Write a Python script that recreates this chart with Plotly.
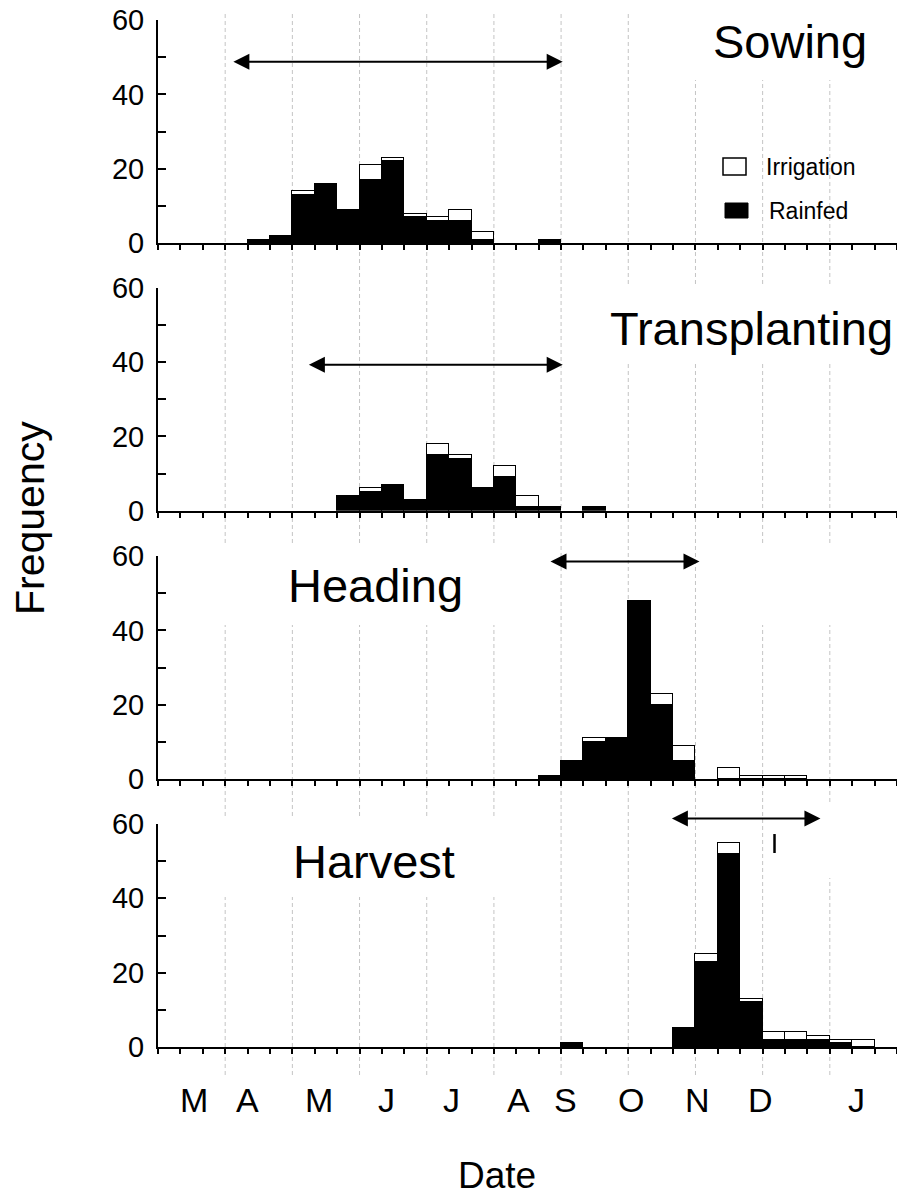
import plotly.graph_objects as go
from plotly.subplots import make_subplots

# ---------------- data ----------------
n_dekads = 33  # 1 March ... 31 January, 10-day periods
months = ["M", "A", "M", "J", "J", "A", "S", "O", "N", "D", "J"]
month_label_x = [1.6, 4.0, 7.2, 10.2, 13.1, 16.1, 18.2, 21.1, 24.1, 26.9, 31.2]
month_bounds = [3, 6, 9, 12, 15, 18, 21, 24, 27, 30]

stages = ["Sowing", "Transplanting", "Heading", "Harvest"]

sowing_rainfed = [0, 0, 0, 0, 1, 2, 13, 16, 9, 17, 22, 7, 6, 6, 1, 0, 0, 1, 0, 0, 0, 0, 0, 0, 0, 0, 0, 0, 0, 0, 0, 0, 0]
sowing_irrigation = [0, 0, 0, 0, 0, 0, 1, 0, 0, 4, 1, 1, 1, 3, 2, 0, 0, 0, 0, 0, 0, 0, 0, 0, 0, 0, 0, 0, 0, 0, 0, 0, 0]

transplanting_rainfed = [0, 0, 0, 0, 0, 0, 0, 0, 4, 5, 7, 3, 15, 14, 6, 9, 1, 1, 0, 1, 0, 0, 0, 0, 0, 0, 0, 0, 0, 0, 0, 0, 0]
transplanting_irrigation = [0, 0, 0, 0, 0, 0, 0, 0, 0, 1, 0, 0, 3, 1, 0, 3, 3, 0, 0, 0, 0, 0, 0, 0, 0, 0, 0, 0, 0, 0, 0, 0, 0]

heading_rainfed = [0, 0, 0, 0, 0, 0, 0, 0, 0, 0, 0, 0, 0, 0, 0, 0, 0, 1, 5, 10, 11, 48, 20, 5, 0, 0, 0, 0, 0, 0, 0, 0, 0]
heading_irrigation = [0, 0, 0, 0, 0, 0, 0, 0, 0, 0, 0, 0, 0, 0, 0, 0, 0, 0, 0, 1, 0, 0, 3, 4, 0, 3, 1, 1, 1, 0, 0, 0, 0]

harvest_rainfed = [0, 0, 0, 0, 0, 0, 0, 0, 0, 0, 0, 0, 0, 0, 0, 0, 0, 0, 1, 0, 0, 0, 0, 5, 23, 52, 12, 2, 2, 2, 1, 0, 0]
harvest_irrigation = [0, 0, 0, 0, 0, 0, 0, 0, 0, 0, 0, 0, 0, 0, 0, 0, 0, 0, 0, 0, 0, 0, 0, 0, 2, 3, 1, 2, 2, 1, 1, 2, 0]

rainfed_series = [sowing_rainfed, transplanting_rainfed, heading_rainfed, harvest_rainfed]
irrigation_series = [sowing_irrigation, transplanting_irrigation, heading_irrigation, harvest_irrigation]

# period arrows (start, end in dekads; height in frequency units)
arrow_start = [3.3, 6.67, 17.46, 22.88]
arrow_end = [18.07, 18.07, 24.18, 29.58]
arrow_y = [48.8, 39.3, 58.5, 61.5]

# stage label anchors (left x in dekads, y in frequency units)
label_x = [24.7, 20.1, 5.7, 5.95]
label_y = [54.3, 49.2, 52.0, 50.0]

y_max = 60
y_tickvals = [0, 10, 20, 30, 40, 50, 60]
y_ticktext = ["0", "", "20", "", "40", "", "60"]
legend_names = ["Irrigation", "Rainfed"]

# ---------------- layout geometry ----------------
W, H = 897, 1201
ML = 158
PW = W - ML
FONT = "Liberation Sans, Arial, Helvetica, sans-serif"
panel_zero_px = [243.3, 510.7, 779.3, 1047.0]
panel_top_px = [20.0, 288.0, 556.0, 824.0]


def px_x(p):
    return (p - ML) / PW


def px_y(p):
    return 1 - p / H


fig = make_subplots(rows=4, cols=1)

centers = [i + 0.5 for i in range(n_dekads)]
for r in range(4):
    rain = [v if v else None for v in rainfed_series[r]]
    irr = [v if v else None for v in irrigation_series[r]]
    fig.add_trace(go.Bar(x=centers, y=rain, width=1, name=legend_names[1],
                         marker=dict(color="black", line=dict(color="black", width=1.5)),
                         showlegend=False), row=r + 1, col=1)
    fig.add_trace(go.Bar(x=centers, y=irr, width=1, name=legend_names[0],
                         marker=dict(color="white", line=dict(color="black", width=1.5)),
                         showlegend=False), row=r + 1, col=1)

for r in range(4):
    ax = "" if r == 0 else str(r + 1)
    fig.layout["yaxis" + ax].update(
        domain=[px_y(panel_zero_px[r]), px_y(panel_top_px[r])],
        range=[0, y_max], tickmode="array", tickvals=y_tickvals, ticktext=y_ticktext,
        ticks="inside", ticklen=8, tickwidth=2, tickcolor="black",
        showline=True, linecolor="black", linewidth=2, showgrid=False, zeroline=False,
        tickfont=dict(family=FONT, size=29, color="black"), ticklabelstandoff=6,
    )
    fig.layout["xaxis" + ax].update(
        domain=[0, 1], range=[0, n_dekads], tickmode="array",
        tickvals=list(range(n_dekads + 1)), showticklabels=False,
        ticks="outside", ticklen=5, tickwidth=2, tickcolor="black",
        showline=True, linecolor="black", linewidth=2, showgrid=False, zeroline=False,
    )

shapes = []
# month boundary gridlines spanning all panels
for b in month_bounds:
    shapes.append(dict(type="line", xref="paper", yref="paper",
                       x0=b / n_dekads, x1=b / n_dekads, y0=px_y(1075), y1=px_y(12),
                       line=dict(color="#c4c4c4", width=1, dash="4px,3px"), layer="below"))
# white patches behind stage labels
for (x0, x1, y0, y1) in [(680, 897, 0, 80), (600, 897, 287, 363), (200, 545, 545, 625),
                         (740, 897, 545, 625), (200, 545, 818, 897), (812, 842, 803, 878)]:
    shapes.append(dict(type="rect", xref="paper", yref="paper",
                       x0=px_x(x0), x1=px_x(x1), y0=px_y(y1), y1=px_y(y0),
                       fillcolor="white", line=dict(width=0), layer="below"))
# legend swatches
shapes.append(dict(type="rect", xref="paper", yref="paper", x0=px_x(723), x1=px_x(746),
                   y0=px_y(175), y1=px_y(158), fillcolor="white",
                   line=dict(color="black", width=1.5)))
shapes.append(dict(type="rect", xref="paper", yref="paper", x0=px_x(725), x1=px_x(748),
                   y0=px_y(218), y1=px_y(203), fillcolor="black",
                   line=dict(color="black", width=1)))
# small vertical mark in the harvest panel
shapes.append(dict(type="line", xref="x4", yref="y4", x0=27.53, x1=27.53, y0=52.2, y1=57.3,
                   line=dict(color="black", width=2.5)))

annotations = []
for r in range(4):
    ax = "" if r == 0 else str(r + 1)
    annotations.append(dict(xref="x" + ax, yref="y" + ax, x=label_x[r], y=label_y[r],
                            text=stages[r], showarrow=False, xanchor="left", yanchor="middle",
                            font=dict(family=FONT, size=47, color="black")))
    annotations.append(dict(xref="x" + ax, yref="y" + ax + " domain",
                            axref="x" + ax, ayref="y" + ax + " domain",
                            x=arrow_end[r], y=arrow_y[r] / y_max,
                            ax=arrow_start[r], ay=arrow_y[r] / y_max,
                            text="", showarrow=True, arrowside="end+start",
                            arrowhead=2, startarrowhead=2,
                            arrowsize=1.6, startarrowsize=1.6, arrowwidth=2, arrowcolor="black",
                            standoff=0, startstandoff=0))

for m, xm in zip(months, month_label_x):
    annotations.append(dict(xref="x4", yref="paper", x=xm, y=px_y(1100), text=m,
                            showarrow=False, xanchor="center", yanchor="middle",
                            font=dict(family=FONT, size=34, color="black")))

annotations.append(dict(xref="paper", yref="paper", x=px_x(497), y=px_y(1175), text="Date",
                        showarrow=False, xanchor="center", yanchor="middle",
                        font=dict(family=FONT, size=37, color="black")))
annotations.append(dict(xref="paper", yref="paper", x=px_x(30), y=px_y(518), text="Frequency",
                        showarrow=False, xanchor="center", yanchor="middle", textangle=-90,
                        font=dict(family=FONT, size=41, color="black")))
annotations.append(dict(xref="paper", yref="paper", x=px_x(764), y=px_y(167), text=legend_names[0],
                        showarrow=False, xanchor="left", yanchor="middle",
                        font=dict(family=FONT, size=23, color="black")))
annotations.append(dict(xref="paper", yref="paper", x=px_x(767), y=px_y(211), text=legend_names[1],
                        showarrow=False, xanchor="left", yanchor="middle",
                        font=dict(family=FONT, size=23, color="black")))

fig.update_layout(
    width=W, height=H, barmode="stack", bargap=0,
    margin=dict(l=ML, r=0, t=0, b=0, autoexpand=False),
    paper_bgcolor="white", plot_bgcolor="rgba(0,0,0,0)",
    shapes=shapes, annotations=annotations, showlegend=False,
)

fig.write_html("out.html")
